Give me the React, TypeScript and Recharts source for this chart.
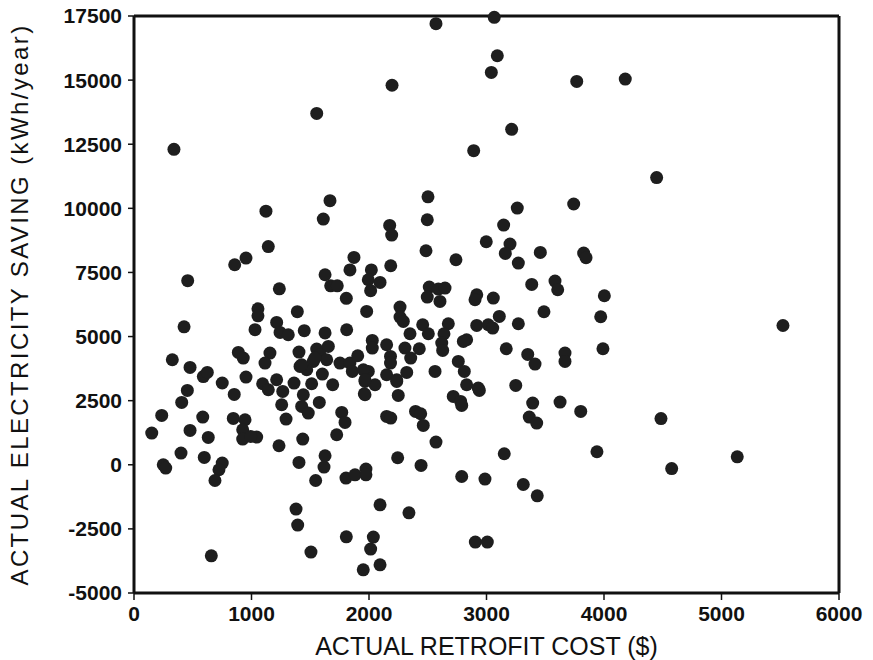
import React from "react";
import { ScatterChart, Scatter, XAxis, YAxis, ReferenceLine } from "recharts";

const xTicks = [0, 1000, 2000, 3000, 4000, 5000, 6000];
const yTicks = [-5000, -2500, 0, 2500, 5000, 7500, 10000, 12500, 15000, 17500];

const retrofitCost = [
  340, 1555, 1668, 2570, 3066, 3092, 3041, 2196, 3768, 4181, 3214, 2891, 2502, 3742, 4448, 5523, 4485, 4576, 5134,
  1123, 1611, 1143, 953, 857, 1872, 1838, 2020, 457, 1626, 1674, 1730, 1994, 2014, 2094, 1237, 1807, 1055, 1055,
  1030, 1390, 1980, 426, 1214, 1243, 1313, 1449, 1626, 1810, 2028, 2028, 326, 477, 590, 624, 751, 454, 888, 930,
  953, 1157, 1115, 1095, 1214, 1362, 1512, 1404, 1413, 1555, 1654, 1583, 1640, 1526, 1470, 1603, 1691, 1753, 1838,
  1904, 1858, 1994, 1966, 2051,
  2496, 2485, 3262, 3146, 2998, 3200, 3160, 3271, 3458, 3827, 3847, 2176, 2193, 2740, 2185, 3385, 3583, 3606, 4003,
  3972, 3991, 3489, 3271, 3168, 3351, 3413, 3668, 3668, 3249, 2513, 2590, 2647, 2496, 2604, 2917, 2902, 3058, 2264,
  2264, 2292, 2349, 2457, 2505, 2675, 2638, 2619, 2627, 2917, 3015, 3053, 3109, 2831, 2803, 2150, 2183, 2183, 2306,
  2355, 2428, 2150, 2236, 2321, 2562, 2760, 2811, 2831, 2930,
  236, 151, 249, 270, 400, 406, 477, 585, 632, 598, 658, 751, 723, 689, 853, 845, 945, 925, 925, 1044, 993, 1143,
  1266, 1257, 1294, 1234, 1441, 1427, 1483, 1577, 1436, 1404, 1546, 1626, 1617, 1725, 1768, 1796, 1804, 1881, 1974,
  1974, 1960, 1379, 1393, 1506, 1807, 2037, 2014, 1951, 2094, 2094,
  2236, 2249, 2150, 2185, 2396, 2440, 2462, 2570, 2244, 2443, 2789, 2987, 2939, 2717, 2780, 2789, 3393, 3626, 3802,
  3364, 3427, 3151, 3313, 3432, 3940, 2340, 2905, 3007,
  1540, 1427, 1952, 1966, 1966,
];

const electricitySaving = [
  12300, 13700, 10300, 17200, 17450, 15950, 15300, 14800, 14950, 15040, 13080, 12250, 10450, 10170, 11200, 5430, 1800, -150, 310,
  9890, 9580, 8510, 8060, 7800, 8085, 7600, 7600, 7180, 7410, 6980, 6980, 7215, 6790, 7110, 6860, 6490, 6080, 5810,
  5270, 5970, 5980, 5380, 5550, 5160, 5070, 5230, 5140, 5265, 4850, 4550, 4095, 3795, 3440, 3600, 3190, 2900, 4380, 4160,
  3420, 4356, 3966, 3160, 3315, 3186, 3159, 4395, 3834, 4512, 4614, 4290, 4095, 4029, 3705, 3537, 3120, 3966, 3966,
  4251, 3639, 3639, 3249, 3120,
  9555, 8346, 10011, 9348, 8697, 8607, 8241, 7866, 8280, 8256, 8073, 9333, 8958, 7995, 7761, 7032, 7164, 6825, 6591,
  5772, 4524, 5967, 5499, 4524, 4302, 3927, 4356, 4029, 3093, 6930, 6852, 6891, 6540, 6369, 6630, 6435, 6501, 6150,
  5760, 5589, 5109, 5460, 5109, 5499, 5109, 4746, 4458, 5433, 5460, 5331, 5784, 4875, 4809, 4680, 4224, 3966, 4551,
  4160, 4524, 3510, 3315, 3600, 3639, 4029, 3639, 3120, 2991,
  1923, 1236, 0, -130, 456, 2430, 1338, 1860, 1065, 285, -3549, 66, -195, -612, 2742, 1806, 1755, 1365, 1002, 1080, 1104, 2925,
  2859, 2340, 1782, 741, 2730, 2274, 2016, 2430, 1002, 90, -612, 351, -90, 1170, 2040, 1650, -519, -390, -168,
  -390, 2769, -1728, -2352, -3405, -2808, -2820, -3288, -4095, -1560, -3900,
  3249, 2703, 1884, 1821, 2079, 1989, 1533, 885, 273, -27, -456, -558, 2900, 2664, 2469, 2313, 2406, 2445, 2079,
  1860, 1626, 429, -768, -1209, 507, -1872, -3015, -3015,
  4160, 3900, 3705, 3315, 2730,
];

const data = retrofitCost.map((c, i) => ({ cost: c, saving: electricitySaving[i] }));

const FONT = "'Liberation Sans', Arial, sans-serif";

const Dot = (props: any) => {
  const { cx, cy } = props;
  if (cx == null || cy == null) return null;
  return <circle cx={cx} cy={cy} r={6.5} fill="#1e1e1e" />;
};

export default function App() {
  return (
    <div style={{ position: "absolute", left: 0, top: 0, width: 873, height: 660, background: "#fff" }}>
      <ScatterChart width={873} height={660} margin={{ top: 16, right: 34, left: 0, bottom: 0 }}>
        <XAxis
          type="number"
          dataKey="cost"
          domain={[0, 6000]}
          ticks={xTicks}
          interval={0}
          axisLine={{ stroke: "#111", strokeWidth: 3 }}
          tickLine={{ stroke: "#111", strokeWidth: 1.5 }}
          tickSize={7}
          tickMargin={6}
          height={67}
          tick={{ fontSize: 21, fill: "#111", fontFamily: FONT, fontWeight: 600 }}
          label={{
            value: "ACTUAL RETROFIT COST ($)",
            position: "insideBottom",
            offset: 5,
            style: { fontSize: 25, fill: "#111", fontFamily: FONT, textAnchor: "middle" },
          }}
        />
        <YAxis
          type="number"
          dataKey="saving"
          domain={[-5000, 17500]}
          ticks={yTicks}
          interval={0}
          width={134}
          axisLine={{ stroke: "#111", strokeWidth: 3 }}
          tickLine={{ stroke: "#111", strokeWidth: 1.5 }}
          tickSize={6}
          tickMargin={6}
          tick={{ fontSize: 21, fill: "#111", fontFamily: FONT, fontWeight: 600 }}
          label={{
            value: "ACTUAL ELECTRICITY SAVING (kWh/year)",
            angle: -90,
            position: "insideLeft",
            offset: 19,
            style: { fontSize: 24, fill: "#111", fontFamily: FONT, textAnchor: "middle", letterSpacing: 2.4 },
          }}
        />
        <ReferenceLine y={17500} stroke="#111" strokeWidth={3} />
        <ReferenceLine x={6000} stroke="#111" strokeWidth={3} />
        <Scatter data={data} shape={Dot} isAnimationActive={false} />
      </ScatterChart>
    </div>
  );
}
